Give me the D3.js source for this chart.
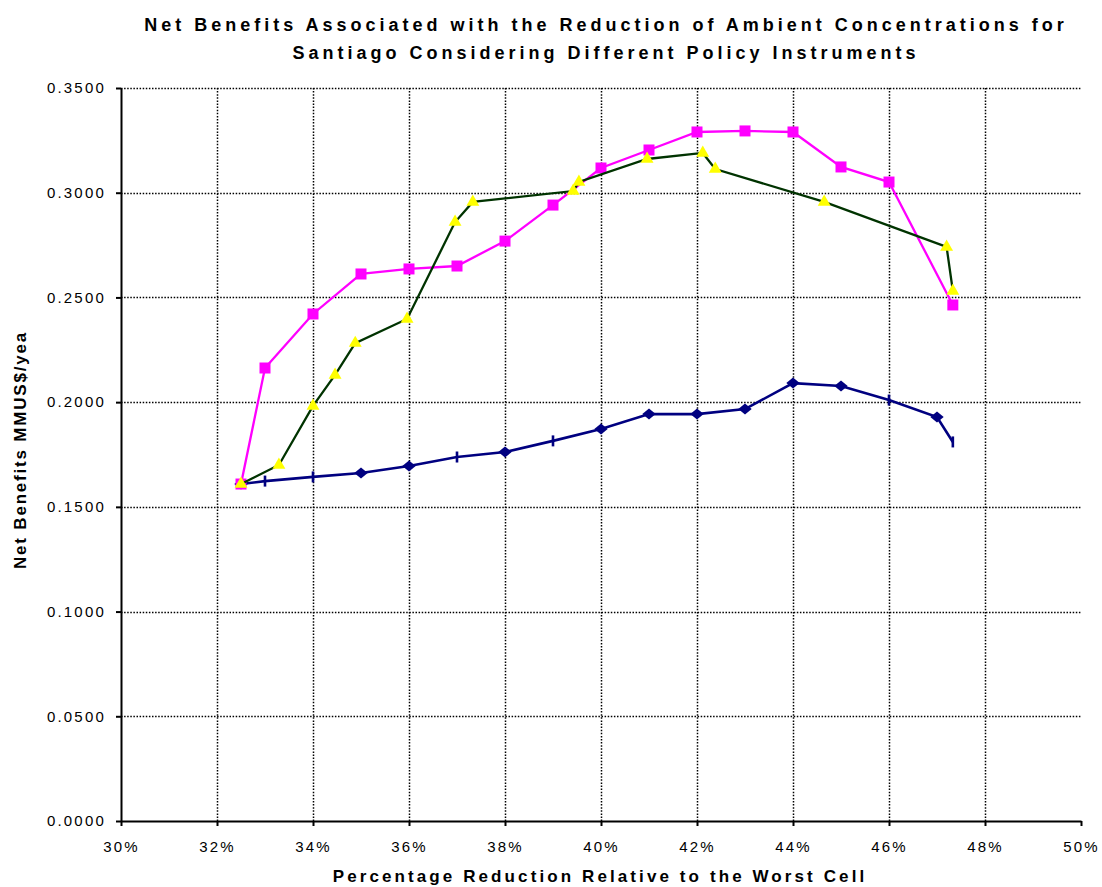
<!DOCTYPE html>
<html>
<head>
<meta charset="utf-8">
<script src="https://cdn.jsdelivr.net/npm/d3@7"></script>
<style>
  body { margin: 0; background: #fff; }
  text { font-family: "Liberation Sans", Arial, sans-serif; }
</style>
</head>
<body>
<div id="chart"></div>
<script>
// values
const titleLines = [
  "Net Benefits Associated with the Reduction of Ambient Concentrations for",
  "Santiago Considering Different Policy Instruments"
];
const xLabel = "Percentage Reduction Relative to the Worst Cell";
const yLabel = "Net Benefits MMUS$/yea";

const xTicks = [0.30, 0.32, 0.34, 0.36, 0.38, 0.40, 0.42, 0.44, 0.46, 0.48, 0.50];
const yTicks = [0, 0.05, 0.10, 0.15, 0.20, 0.25, 0.30, 0.35];

// magenta squares
const pinkX = [0.325, 0.33, 0.34, 0.35, 0.36, 0.37, 0.38, 0.39, 0.40, 0.41, 0.42, 0.43, 0.44, 0.45, 0.46, 0.4733];
const pinkY = [0.1609, 0.2163, 0.2421, 0.2612, 0.2636, 0.2650, 0.2769, 0.2941, 0.3118, 0.3204, 0.3290, 0.3295, 0.3290, 0.3123, 0.3051, 0.2464];

// dark green line with yellow triangles
const greenX = [0.325, 0.3329, 0.34, 0.3446, 0.3488, 0.3596, 0.3696, 0.3733, 0.3942, 0.3954, 0.4096, 0.4212, 0.4238, 0.4465, 0.472, 0.4733];
const greenY = [0.1609, 0.1700, 0.1982, 0.2130, 0.2282, 0.2397, 0.2860, 0.2956, 0.3008, 0.3051, 0.3161, 0.3190, 0.3113, 0.2956, 0.2741, 0.2531];

// navy line, diamonds and bars
const navyX = [0.325, 0.33, 0.34, 0.35, 0.36, 0.37, 0.38, 0.39, 0.40, 0.41, 0.42, 0.43, 0.44, 0.45, 0.46, 0.47, 0.4733];
const navyY = [0.1609, 0.1623, 0.1643, 0.1662, 0.1695, 0.1738, 0.1762, 0.1815, 0.1872, 0.1943, 0.1943, 0.1967, 0.2091, 0.2077, 0.2010, 0.1929, 0.1810];
const navyMark = ["diamond", "bar", "bar", "diamond", "diamond", "bar", "diamond", "bar", "diamond",
  "diamond", "diamond", "diamond", "diamond", "diamond", "bar", "diamond", "bar"];

const W = 1102, H = 887;
const margin = {top: 88, right: 21, bottom: 66, left: 121};

const svg = d3.select("#chart").append("svg")
  .attr("width", W)
  .attr("height", H);

const x = d3.scaleLinear().domain([0.30, 0.50]).range([margin.left, W - margin.right]);
const y = d3.scaleLinear().domain([0, 0.35]).range([H - margin.bottom, margin.top]);

// grid
const grid = svg.append("g")
  .attr("stroke", "#000")
  .attr("stroke-width", 1.5)
  .attr("stroke-dasharray", "1.5,1.6");
grid.selectAll(".gx")
  .data(xTicks.filter(d => d > 0.301 && d < 0.499))
  .join("line")
    .attr("x1", d => Math.round(x(d)) + 0.5)
    .attr("x2", d => Math.round(x(d)) + 0.5)
    .attr("y1", y(0.35))
    .attr("y2", y(0));
grid.selectAll(".gy")
  .data(yTicks.filter(d => d > 0))
  .join("line")
    .attr("x1", x(0.30))
    .attr("x2", x(0.50))
    .attr("y1", d => Math.round(y(d)) + 0.5)
    .attr("y2", d => Math.round(y(d)) + 0.5);

// axes
const xAxis = svg.append("g")
  .attr("transform", `translate(0,${y(0)})`)
  .call(d3.axisBottom(x).tickValues(xTicks).tickFormat(d3.format(".0%")).tickSizeInner(5).tickSizeOuter(0).tickPadding(15));
const yAxis = svg.append("g")
  .attr("transform", `translate(${x(0.30)},0)`)
  .call(d3.axisLeft(y).tickValues(yTicks).tickFormat(d3.format(".4f")).tickSizeInner(5).tickSizeOuter(0).tickPadding(10));

[xAxis, yAxis].forEach(a => {
  a.select(".domain").attr("stroke-width", 2);
  a.selectAll(".tick line").attr("stroke-width", 2);
  a.selectAll(".tick text")
    .attr("font-family", "'Liberation Sans', Arial, sans-serif")
    .attr("font-size", 15)
    .attr("letter-spacing", "2.2px")
    .attr("fill", "#000");
});

// lines
const line = d3.line().x(d => x(d[0])).y(d => y(d[1]));
const navyPts = navyX.map((v, i) => [v, navyY[i], navyMark[i]]);
const pinkPts = pinkX.map((v, i) => [v, pinkY[i]]);
const greenPts = greenX.map((v, i) => [v, greenY[i]]);

// navy series
svg.append("path").datum(navyPts)
  .attr("d", line)
  .attr("fill", "none")
  .attr("stroke", "#000080")
  .attr("stroke-width", 2.6);
svg.selectAll(".nd")
  .data(navyPts.filter(d => d[2] === "diamond"))
  .join("path")
    .attr("d", d3.symbol(d3.symbolDiamond2, 95))
    .attr("transform", d => `translate(${x(d[0])},${y(d[1])}) scale(1.1,0.9)`)
    .attr("fill", "#000080");
svg.selectAll(".nb")
  .data(navyPts.filter(d => d[2] === "bar"))
  .join("rect")
    .attr("x", d => x(d[0]) - 1.3)
    .attr("y", d => y(d[1]) - 5.5)
    .attr("width", 2.6)
    .attr("height", 11)
    .attr("fill", "#000080");

// magenta series
svg.append("path").datum(pinkPts)
  .attr("d", line)
  .attr("fill", "none")
  .attr("stroke", "#ff00ff")
  .attr("stroke-width", 2.3);
svg.selectAll(".ps")
  .data(pinkPts)
  .join("rect")
    .attr("x", d => x(d[0]) - 5.5)
    .attr("y", d => y(d[1]) - 5.5)
    .attr("width", 11)
    .attr("height", 11)
    .attr("fill", "#ff00ff");

// green series
svg.append("path").datum(greenPts)
  .attr("d", line)
  .attr("fill", "none")
  .attr("stroke", "#003300")
  .attr("stroke-width", 2.3);
svg.selectAll(".gt")
  .data(greenPts)
  .join("path")
    .attr("d", d3.symbol(d3.symbolTriangle, 72))
    .attr("transform", d => `translate(${x(d[0])},${y(d[1])})`)
    .attr("fill", "#ffff00");

// titles
svg.append("g").selectAll("text")
  .data(titleLines)
  .join("text")
    .attr("x", 606)
    .attr("y", (d, i) => 31 + i * 28)
    .attr("text-anchor", "middle")
    .attr("font-size", 18)
    .attr("font-weight", "bold")
    .attr("letter-spacing", "4px")
    .text(d => d);

svg.append("text")
  .attr("x", 600)
  .attr("y", 882)
  .attr("text-anchor", "middle")
  .attr("font-size", 17)
  .attr("font-weight", "bold")
  .attr("letter-spacing", "3.1px")
  .text(xLabel);

svg.append("text")
  .attr("transform", "translate(26,450) rotate(-90)")
  .attr("text-anchor", "middle")
  .attr("font-size", 17)
  .attr("font-weight", "bold")
  .attr("letter-spacing", "1.8px")
  .text(yLabel);
</script>
</body>
</html>
